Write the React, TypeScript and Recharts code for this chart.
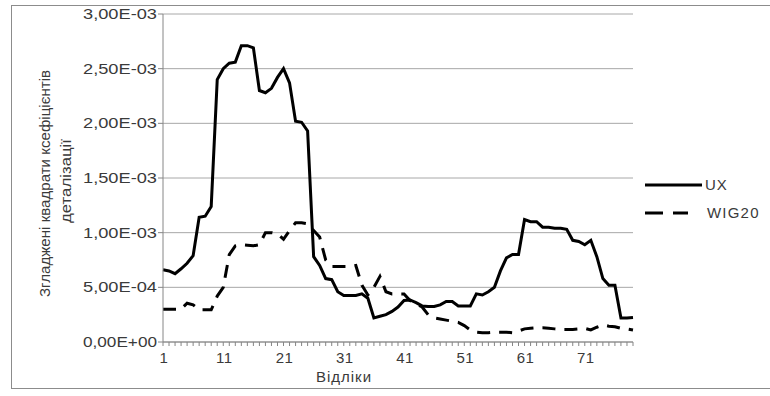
import { LineChart, Line, XAxis, YAxis, CartesianGrid, Legend } from "recharts";

const samples = Array.from({ length: 79 }, (_, i) => i + 1);
const xLabels = [1, 11, 21, 31, 41, 51, 61, 71];
const yTicks = [0, 0.0005, 0.001, 0.0015, 0.002, 0.0025, 0.003];

// згладжені квадрати коефіцієнтів, UX
const ux = [
  6.6e-4, 6.5e-4, 6.25e-4, 6.7e-4, 7.2e-4, 7.9e-4, 1.14e-3, 1.15e-3, 1.24e-3, 2.4e-3,
  2.5e-3, 2.55e-3, 2.56e-3, 2.71e-3, 2.71e-3, 2.69e-3, 2.3e-3, 2.28e-3, 2.32e-3, 2.42e-3,
  2.5e-3, 2.37e-3, 2.02e-3, 2.01e-3, 1.93e-3, 7.8e-4, 7.0e-4, 5.8e-4, 5.7e-4, 4.6e-4,
  4.25e-4, 4.25e-4, 4.25e-4, 4.4e-4, 4.0e-4, 2.2e-4, 2.35e-4, 2.5e-4, 2.8e-4, 3.2e-4,
  3.8e-4, 3.85e-4, 3.6e-4, 3.3e-4, 3.25e-4, 3.25e-4, 3.4e-4, 3.7e-4, 3.7e-4, 3.3e-4,
  3.3e-4, 3.3e-4, 4.4e-4, 4.3e-4, 4.6e-4, 5.0e-4, 6.5e-4, 7.7e-4, 8.0e-4, 8.0e-4,
  1.12e-3, 1.1e-3, 1.1e-3, 1.05e-3, 1.05e-3, 1.04e-3, 1.04e-3, 1.03e-3, 9.3e-4, 9.2e-4,
  8.9e-4, 9.3e-4, 7.8e-4, 5.8e-4, 5.2e-4, 5.2e-4, 2.2e-4, 2.2e-4, 2.25e-4,
];

// WIG20
const wig20 = [
  3.0e-4, 3.0e-4, 3.0e-4, 3.0e-4, 3.55e-4, 3.4e-4, 2.95e-4, 2.95e-4, 2.95e-4, 4.2e-4,
  5.0e-4, 8.0e-4, 8.8e-4, 8.9e-4, 8.85e-4, 8.8e-4, 8.9e-4, 1.0e-3, 1.0e-3, 9.9e-4,
  9.4e-4, 1.02e-3, 1.09e-3, 1.09e-3, 1.08e-3, 1.02e-3, 9.6e-4, 7.5e-4, 6.9e-4, 6.9e-4,
  6.9e-4, 6.9e-4, 7.0e-4, 5.2e-4, 4.3e-4, 5.0e-4, 6.0e-4, 4.6e-4, 4.4e-4, 4.4e-4,
  4.4e-4, 3.8e-4, 3.5e-4, 3.2e-4, 2.5e-4, 2.2e-4, 2.1e-4, 2.0e-4, 1.9e-4, 1.8e-4,
  1.5e-4, 1.1e-4, 9e-5, 8.5e-5, 8.5e-5, 9e-5, 9e-5, 9e-5, 8.5e-5, 1.0e-4,
  1.2e-4, 1.25e-4, 1.3e-4, 1.3e-4, 1.25e-4, 1.2e-4, 1.15e-4, 1.15e-4, 1.15e-4, 1.2e-4,
  1.25e-4, 1.1e-4, 1.35e-4, 1.55e-4, 1.45e-4, 1.4e-4, 1.25e-4, 1.2e-4, 1.1e-4,
];

const data = samples.map((s, i) => ({ s, UX: ux[i], WIG20: wig20[i] }));

const FONT = "'Liberation Sans', Arial, sans-serif";
const TXT = "#3a3a3a";
const AXIS = "#868686";

// 0.0015 -> "1,50E-03"
const fmtSci = (v: number) => {
  if (v === 0) return "0,00E+00";
  const [m, e] = v.toExponential(2).split("e");
  const ex = parseInt(e, 10);
  return m.replace(".", ",") + "E" + (ex < 0 ? "-" : "+") + String(Math.abs(ex)).padStart(2, "0");
};

const YTick = (props: any) => {
  const { y, payload } = props;
  return (
    <text x={157} y={y + 5} textAnchor="end" fontSize={15} fill={TXT} fontFamily={FONT}
      textLength={74} lengthAdjust="spacingAndGlyphs">
      {fmtSci(payload.value)}
    </text>
  );
};

const XTick = (props: any) => {
  const { x, payload } = props;
  if (!xLabels.includes(payload.value)) return null;
  return (
    <text x={x + 1} y={363} textAnchor="middle" fontSize={15} fill={TXT} fontFamily={FONT} letterSpacing={0.5}>
      {payload.value}
    </text>
  );
};

const YTitle = () => (
  <g fontFamily={FONT} fontSize={14} fill={TXT}>
    <text x={0} y={0} transform="translate(50,183.5) rotate(-90)" textAnchor="middle"
      textLength={227} lengthAdjust="spacingAndGlyphs">
      Згладжені квадрати ксефіцієнтів
    </text>
    <text x={0} y={0} transform="translate(71,181) rotate(-90)" textAnchor="middle"
      textLength={84} lengthAdjust="spacingAndGlyphs">
      деталізації
    </text>
  </g>
);

const XTitle = () => (
  <text x={344} y={382} textAnchor="middle" fontSize={15} fill={TXT} fontFamily={FONT} letterSpacing={1}>
    Відліки
  </text>
);

const LegendBox = (props: any) => {
  const items = props.payload || [];
  return (
    <svg width={130} height={60} style={{ display: "block" }}>
      {items.map((it: any, i: number) => {
        const y = 15 + i * 28;
        const dashed = it.dataKey === "WIG20";
        return (
          <g key={it.value}>
            <line x1={5} x2={dashed ? 48 : 62} y1={y} y2={y} stroke="#000" strokeWidth={3}
              strokeDasharray={dashed ? "18 10" : undefined} />
            <text x={dashed ? 67 : 65} y={y + 5} fontSize={15} fill={TXT} fontFamily={FONT} letterSpacing={dashed ? 1.2 : 1}>
              {it.value}
            </text>
          </g>
        );
      })}
    </svg>
  );
};

export default function App() {
  return (
    <div style={{ position: "absolute", left: 0, top: 0, width: 770, height: 396, background: "#fff", overflow: "hidden" }}>
      <div style={{ position: "absolute", left: 11, top: 5, width: 800, height: 382, border: "1px solid #8c8c8c" }} />
      <div style={{ position: "absolute", left: 0, top: 0 }}>
        <LineChart width={770} height={396} data={data} margin={{ top: 14, right: 137, bottom: 0, left: 0 }}>
          <CartesianGrid horizontal vertical={false} stroke="#a8a8a8" />
          <XAxis dataKey="s" interval={0} tickSize={4} stroke={AXIS} tick={<XTick />} height={54}
            label={{ content: () => <XTitle /> }} />
          <YAxis width={163} domain={[0, 0.003]} ticks={yTicks} tickSize={5} stroke={AXIS} tick={<YTick />}
            label={{ content: () => <YTitle /> }} />
          <Legend layout="vertical" align="center" verticalAlign="middle" content={<LegendBox />}
            wrapperStyle={{ position: "absolute", left: 640, top: 170, width: 130 }} />
          <Line type="linear" dataKey="UX" stroke="#000" strokeWidth={3} dot={false} isAnimationActive={false} />
          <Line type="linear" dataKey="WIG20" stroke="#000" strokeWidth={3} strokeDasharray="13 9" dot={false}
            isAnimationActive={false} />
        </LineChart>
      </div>
    </div>
  );
}
